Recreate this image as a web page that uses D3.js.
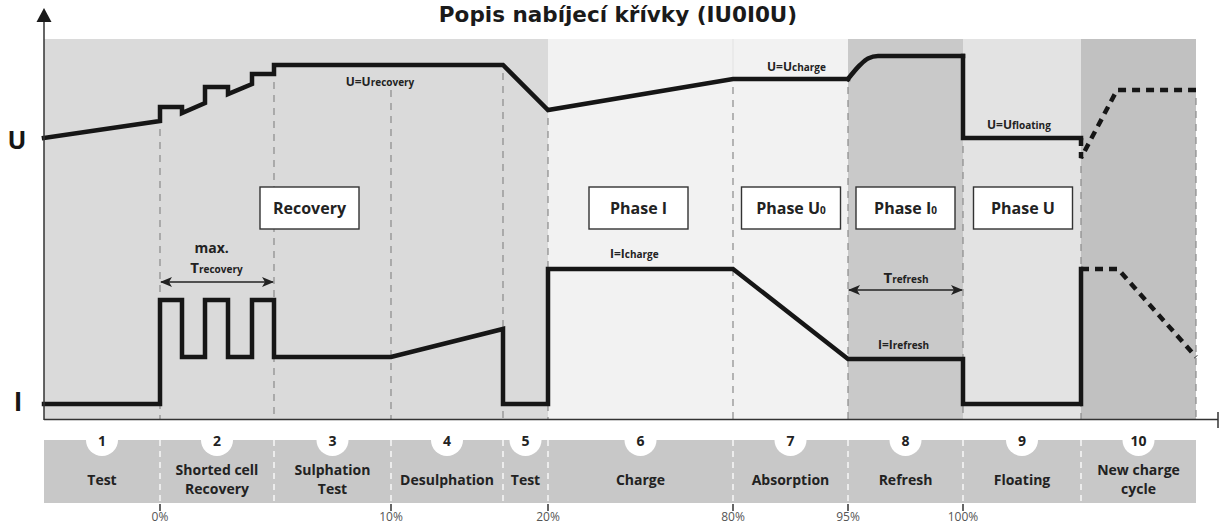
<!DOCTYPE html>
<html><head><meta charset="utf-8">
<script src="https://cdn.jsdelivr.net/npm/d3@7"></script>
<style>body{margin:0;background:#fff} svg{display:block}</style>
</head><body><svg id="c" width="1219" height="526"></svg>
<script>
// ---------------- DATA ----------------
const chartTitle = "Popis nabíjecí křívky (IU0I0U)";
// phase boundaries on the time axis (arbitrary time units)
const phaseBounds = [0, 116, 230, 347, 459, 504, 689, 804, 919, 1037, 1152];
const phaseNumbers = ["1","2","3","4","5","6","7","8","9","10"];
const phaseNames = [["Test"],["Shorted cell","Recovery"],["Sulphation","Test"],["Desulphation"],["Test"],
                    ["Charge"],["Absorption"],["Refresh"],["Floating"],["New charge","cycle"]];
const percentLabels = ["0%","10%","20%","80%","95%","100%"];
const percentAt = [116, 347, 504, 689, 804, 919];

// Voltage curve U (time, level)
const uTime  = [0, 116, 116, 138, 138, 161, 161, 184, 184, 208, 208, 230, 230, 459, 504, 689, 804];
const uLevel = [281, 298, 312, 312, 306, 316, 332, 332, 325, 335, 345, 345, 354, 354, 309, 340, 340];
const uRefreshTime  = [804, 816, 824, 834, 919];
const uRefreshLevel = [340, 354, 360.5, 363, 363];
const uFloatTime  = [919, 919, 1037];
const uFloatLevel = [363, 281, 281];
const uNextTime  = [1037, 1037, 1073, 1152];
const uNextLevel = [281, 261, 329, 329];

// Current curve I (time, level)
const iTime  = [0, 116, 116, 138, 138, 161, 161, 184, 184, 208, 208, 230, 230, 347, 459, 459, 504, 504, 689, 804, 919, 919, 1037, 1037];
const iLevel = [15, 15, 119, 119, 62, 62, 119, 119, 62, 62, 119, 119, 62, 62, 90, 15, 15, 150, 150, 60, 60, 15, 15, 150];
const iNextTime  = [1037, 1074, 1152];
const iNextLevel = [150, 150, 62];

// phase boxes
const boxTexts = [["Recovery",""],["Phase I",""],["Phase U","0"],["Phase I","0"],["Phase U",""]];
// annotations
const annoMain = ["U=U","U=U","U=U","I=I","I=I","T","T"];
const annoSub  = ["recovery","charge","floating","charge","refresh","recovery","refresh"];

// ---------------- LAYOUT / STYLE ----------------
const FONT = "'Open Sans','Noto Sans',sans-serif";
const bgPalette = ["#dadada","#dadada","#dadada","#dadada","#dadada","#f2f2f2","#f2f2f2","#c9c9c9","#e3e3e3","#c1c1c1"];
const boxCenters = [265.5, 594.5, 747, 861.5, 979];
const annoAt = [[336,333,"middle"],[723,348,"start"],[943,290,"start"],[566,161,"start"],[834,70,"start"],[172.5,146,"middle"],[862,136,"middle"]];

const svg = d3.select("#c");
const x = d3.scaleLinear().domain([0, 1152]).range([44, 1196]);
const y = d3.scaleLinear().domain([0, 380]).range([419, 39]);
const INK = "#161616";

// defs: arrow marker
const defs = svg.append("defs");
defs.append("marker").attr("id","arr").attr("viewBox","0 -5 12 10").attr("refX",11).attr("refY",0)
  .attr("markerWidth",12).attr("markerHeight",10).attr("markerUnits","userSpaceOnUse")
  .attr("orient","auto-start-reverse")
  .append("path").attr("d","M0,-5 L12,0 L0,5 L3,0 Z").attr("fill","#222");

// backgrounds
svg.append("g").selectAll("rect").data(d3.range(10)).join("rect")
  .attr("x", i => x(phaseBounds[i])).attr("y", y(380))
  .attr("width", i => x(phaseBounds[i+1]) - x(phaseBounds[i]))
  .attr("height", y(0) - y(380))
  .attr("fill", i => bgPalette[i]);

// faint solid divider between charge and absorption above the curve
svg.append("line").attr("x1", x(689)).attr("x2", x(689)).attr("y1", y(380)).attr("y2", y(340))
  .attr("stroke","#e2e2e2").attr("stroke-width",1);

// helper: min level of U curve at time t
const allU = [
  d3.zip(uTime,uLevel), d3.zip(uRefreshTime,uRefreshLevel), d3.zip(uFloatTime,uFloatLevel), d3.zip(uNextTime,uNextLevel)
];
function uMinAt(t){
  let m = Infinity;
  allU.forEach(pts => {
    for (let k=0;k<pts.length;k++){
      if (pts[k][0]===t) m = Math.min(m, pts[k][1]);
      if (k<pts.length-1){
        const [t0,l0]=pts[k],[t1,l1]=pts[k+1];
        if (t0<t && t<t1) m = Math.min(m, l0+(l1-l0)*(t-t0)/(t1-t0));
      }
    }
  });
  return m;
}

// dashed guides (the one under the U=Urecovery label starts below the label)
svg.append("g").selectAll("line").data(phaseBounds.slice(1)).join("line")
  .attr("x1", d => x(d)).attr("x2", d => x(d))
  .attr("y1", d => d === 347 ? y(uMinAt(d)) + 25 : y(uMinAt(d)) + 8).attr("y2", y(0))
  .attr("stroke","#8a8a8a").attr("stroke-width",1.2).attr("stroke-dasharray","7,6");

// curves
const line = d3.line().x(d => x(d[0])).y(d => y(d[1]));
const lineMono = d3.line().x(d => x(d[0])).y(d => y(d[1])).curve(d3.curveMonotoneX);
function solid(p, gen){ svg.append("path").attr("d", gen(p)).attr("fill","none").attr("stroke",INK)
  .attr("stroke-width",4.5).attr("stroke-linejoin","miter").attr("stroke-linecap","square"); }
function dashed(p){ svg.append("path").attr("d", line(p)).attr("fill","none").attr("stroke",INK)
  .attr("stroke-width",4.5).attr("stroke-dasharray","8,6").attr("stroke-linejoin","miter"); }

solid(d3.zip(uTime,uLevel), line);
solid(d3.zip(uRefreshTime,uRefreshLevel), lineMono);
solid(d3.zip(uFloatTime,uFloatLevel), line);
dashed(d3.zip(uNextTime,uNextLevel));
solid(d3.zip(iTime,iLevel), line);
dashed(d3.zip(iNextTime,iNextLevel));

// axes
svg.append("line").attr("x1",44).attr("x2",1218).attr("y1",y(0)+0.5).attr("y2",y(0)+0.5)
  .attr("stroke","#333").attr("stroke-width",1.5);
svg.append("line").attr("x1",1218).attr("x2",1218).attr("y1",412).attr("y2",428)
  .attr("stroke","#333").attr("stroke-width",1.5);
svg.append("line").attr("x1",44).attr("x2",44).attr("y1",y(0)+1).attr("y2",20)
  .attr("stroke","#333").attr("stroke-width",1.5);
svg.append("path").attr("d","M44,8 L36.5,22 L51.5,22 Z").attr("fill","#1a1a1a");

// axis letters
svg.append("text").attr("x",17).attr("y",149).attr("text-anchor","middle")
  .attr("font-family",FONT).attr("font-weight",700).attr("font-size",25).attr("fill",INK).text("U");
svg.append("text").attr("x",18).attr("y",411).attr("text-anchor","middle")
  .attr("font-family",FONT).attr("font-weight",700).attr("font-size",26).attr("fill",INK).text("I");

// title
svg.append("text").attr("x",618).attr("y",22).attr("text-anchor","middle")
  .attr("font-family","'DejaVu Sans',Verdana,sans-serif").attr("font-weight",700).attr("font-size",21.5)
  .attr("fill","#1a1a1a").text(chartTitle);

// text with subscript helper
function subText(px, py, main, sub, sMain, sSub, anchor){
  const t = svg.append("text").attr("x",px).attr("y",py).attr("text-anchor",anchor)
    .attr("font-family",FONT).attr("font-weight",700).attr("fill","#222");
  t.append("tspan").attr("font-size",sMain).text(main);
  if (sub) t.append("tspan").attr("font-size",sSub).text(sub);
  return t;
}

// phase boxes
const bw = 99;
boxTexts.forEach((b,k) => {
  const cx = x(boxCenters[k]);
  svg.append("rect").attr("x",cx-bw/2).attr("y",y(232)).attr("width",bw).attr("height",y(190)-y(232))
    .attr("fill","#fff").attr("stroke","#333").attr("stroke-width",1.4);
  subText(cx, (y(232)+y(190))/2+5.5, b[0], b[1], 16, 10, "middle");
});

// annotations
annoMain.forEach((m,k) => {
  const [t,lv,anc] = annoAt[k];
  const big = m === "T" ? 15 : 12;
  subText(x(t), y(lv), m, annoSub[k], big, 10, anc);
});
svg.append("text").attr("x",x(167.7)).attr("y",y(166)).attr("text-anchor","middle")
  .attr("font-family",FONT).attr("font-weight",700).attr("font-size",14).attr("fill","#222").text("max.");

// double arrows
[[116,230,137],[804,919,129]].forEach(([a,b,lv]) => {
  svg.append("line").attr("x1",x(a)+1).attr("x2",x(b)-1).attr("y1",y(lv)).attr("y2",y(lv))
    .attr("stroke","#222").attr("stroke-width",1.6)
    .attr("marker-start","url(#arr)").attr("marker-end","url(#arr)");
});

// bottom band
const bandTop = 440, bandBot = 503;
svg.append("rect").attr("x",x(0)).attr("y",bandTop).attr("width",x(1152)-x(0)).attr("height",bandBot-bandTop)
  .attr("fill","#c8c8c8");
svg.append("g").selectAll("line").data(phaseBounds.slice(1,-1)).join("line")
  .attr("x1",d=>x(d)).attr("x2",d=>x(d)).attr("y1",bandTop).attr("y2",bandBot)
  .attr("stroke","#fff").attr("stroke-width",1.3).attr("stroke-dasharray","6,5");
const centers = d3.range(10).map(i => (x(phaseBounds[i])+x(phaseBounds[i+1]))/2);
svg.append("g").selectAll("circle").data(centers).join("circle")
  .attr("cx",d=>d).attr("cy",bandTop).attr("r",16).attr("fill","#fff");
svg.append("g").selectAll("text").data(phaseNumbers).join("text")
  .attr("x",(d,i)=>centers[i]).attr("y",bandTop+6).attr("text-anchor","middle")
  .attr("font-family",FONT).attr("font-weight",700).attr("font-size",14).attr("fill","#222").text(d=>d);
phaseNames.forEach((lines,i) => {
  const t = svg.append("text").attr("text-anchor","middle").attr("font-family",FONT)
    .attr("font-weight",700).attr("font-size",14).attr("fill","#222");
  const y0 = lines.length === 1 ? 485 : 475;
  lines.forEach((s,j) => t.append("tspan").attr("x",centers[i]).attr("y",y0 + j*19).text(s));
});
// percent ticks
svg.append("g").selectAll("line").data(percentAt).join("line")
  .attr("x1",d=>x(d)).attr("x2",d=>x(d)).attr("y1",bandBot+1).attr("y2",bandBot+8)
  .attr("stroke","#333").attr("stroke-width",1.5);
svg.append("g").selectAll("text").data(percentLabels).join("text")
  .attr("x",(d,i)=>x(percentAt[i])).attr("y",521).attr("text-anchor","middle")
  .attr("font-family",FONT).attr("font-size",12).attr("fill","#555").text(d=>d);
</script></body></html>
